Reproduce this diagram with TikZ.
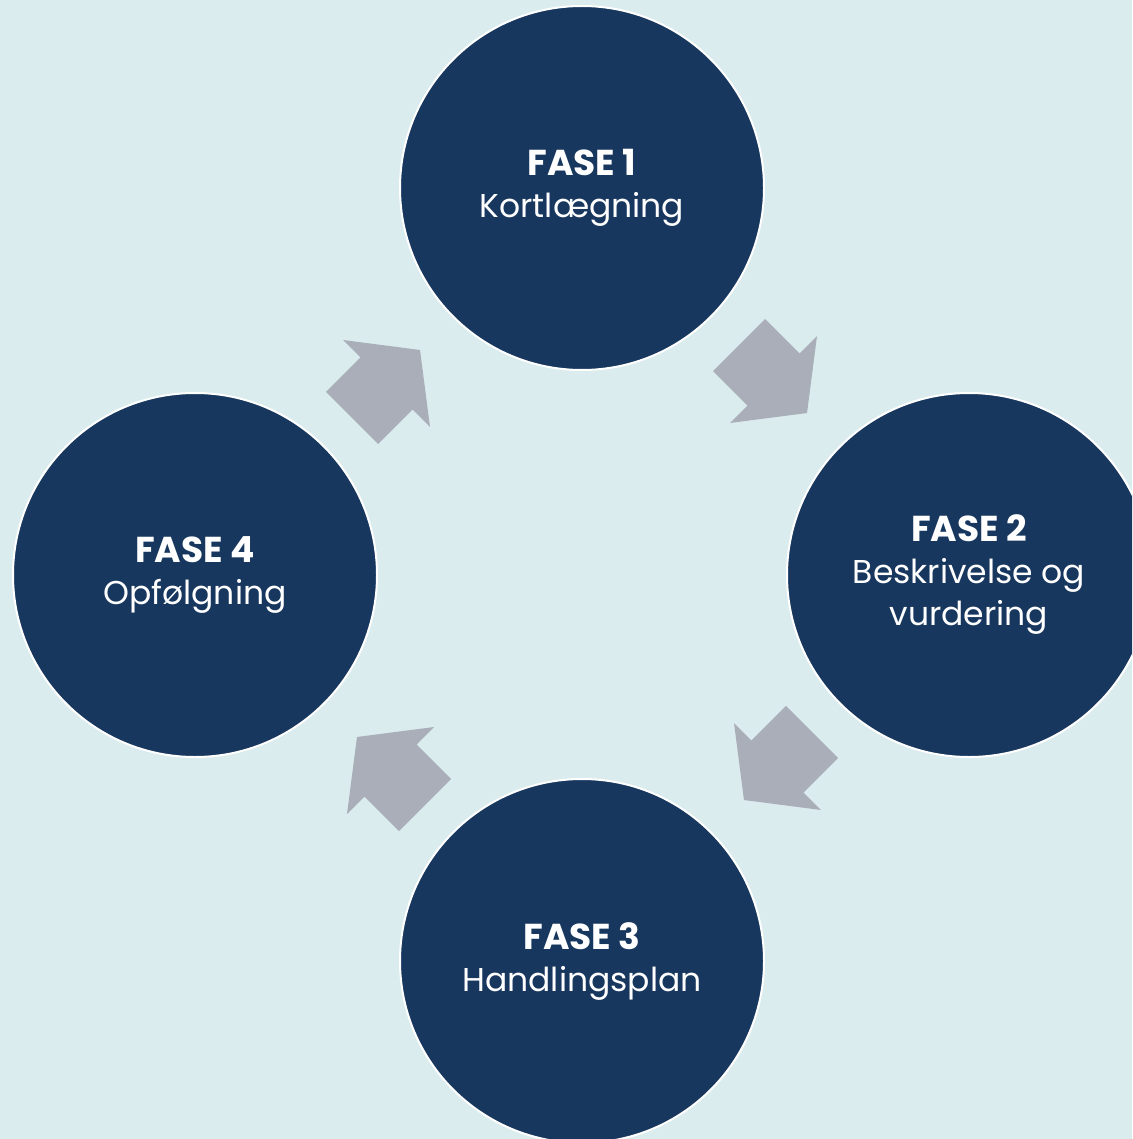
\documentclass[tikz,border=0pt]{standalone}
\usepackage{fontspec}
\setmainfont{Poppins}
\definecolor{bgc}{HTML}{DAECEE}
\definecolor{navy}{HTML}{17375E}
\definecolor{arrowgray}{HTML}{A9AEB8}
\newcommand\phasehead[1]{{\fontsize{36}{42}\selectfont\bfseries #1}}
\tikzset{
  phase/.style={circle, fill=navy, draw=white, line width=2pt, minimum size=364pt, inner sep=0pt,
    text=white, align=center, font=\fontsize{33}{42}\selectfont},
  cyclearrowfill/.style={fill=arrowgray}
}
\newcommand\blockarrow[2]{%
  \begin{scope}[shift={#1}, rotate=#2]
    \fill[cyclearrowfill] (0,36.8) -- (48.8,36.8) -- (48.8,61.5) -- (96.2,0) -- (48.8,-61.5) -- (48.8,-36.8) -- (0,-36.8) -- cycle;
  \end{scope}}
\begin{document}
\begin{tikzpicture}[x=1pt, y=-1pt]
  \useasboundingbox (0,0) rectangle (1132,1139);
  \clip (0,0) rectangle (1132,1139);
  \fill[bgc] (0,0) rectangle (1132,1139);
  \node[phase] (f1) at (582,188) {\phasehead{FASE 1}\\Kortlægning};
  \node[phase] (f2) at (969,575) {\phasehead{FASE 2}\\Beskrivelse og\\vurdering};
  \node[phase] (f3) at (582,961) {\phasehead{FASE 3}\\Handlingsplan};
  \node[phase] (f4) at (195,575) {\phasehead{FASE 4}\\Opfølgning};
  \blockarrow{(739,345)}{-45}
  \blockarrow{(812,732)}{-135}
  \blockarrow{(425,805)}{135}
  \blockarrow{(352,418)}{45}
\end{tikzpicture}
\end{document}
